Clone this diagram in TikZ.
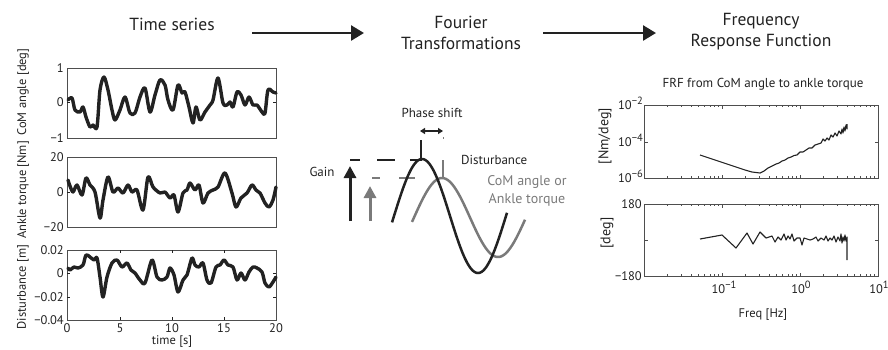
\documentclass[tikz,border=0pt]{standalone}
\usepackage{fontspec}
\setmainfont{PT Sans}
\usetikzlibrary{arrows.meta}
\definecolor{ink}{HTML}{222222}
\definecolor{gry}{HTML}{7A7A7A}
\newcommand\expo[1]{\raisebox{0.75ex}{\fontsize{10.5}{11}\selectfont #1}}
\tikzset{
  title/.style={font=\fontsize{17.5}{21}\selectfont, text=ink, align=center, inner sep=0pt},
  tick/.style={font=\fontsize{12.5}{13}\selectfont, text=ink, inner sep=0pt},
  ylab/.style={font=\fontsize{12.5}{13}\selectfont, text=ink, rotate=90, inner sep=0pt},
  bigarrow/.style={ink, line width=2.6pt, -{Triangle[length=13pt,width=15pt]}},
  panel/.style={draw=ink!80, line width=0.8pt},
  sig/.style={ink, line width=3.4pt, line join=round, line cap=round},
  thin/.style={ink, line width=1.1pt, line join=round},
  lbl/.style={font=\fontsize{13}{15}\selectfont, text=ink, inner sep=0pt},
}
\begin{document}
\begin{tikzpicture}[x=1pt,y=-1pt]
\useasboundingbox (0,0) rectangle (888,349);
% titles
\node[title] (ts) at (172,24) {Time series};
\node[title] (ft) at (461,33) {Fourier\\Transformations};
\node[title] (frf) at (761,32) {Frequency\\Response Function};
\coordinate (a1s) at (252,33); \coordinate (a1e) at (364,33);
\coordinate (a2s) at (543,33); \coordinate (a2e) at (656,33);
\draw[bigarrow] (a1s) -- (a1e);
\draw[bigarrow] (a2s) -- (a2e);

% ---------- time series panels ----------
\node[panel, minimum width=209pt, minimum height=70pt, inner sep=0pt, anchor=north west] (p1) at (67,68) {};
\node[panel, minimum width=209pt, minimum height=70pt, inner sep=0pt, anchor=north west] (p2) at (67,157) {};
\node[panel, minimum width=209pt, minimum height=70pt, inner sep=0pt, anchor=north west] (p3) at (67,250) {};
% ticks
\foreach \y in {102} {\draw[ink] (67,\y) -- (70,\y); \draw[ink] (276,\y) -- (273,\y);}
\foreach \y in {192} {\draw[ink] (67,\y) -- (70,\y); \draw[ink] (276,\y) -- (273,\y);}
\foreach \y in {273,297} {\draw[ink] (67,\y) -- (70,\y); \draw[ink] (276,\y) -- (273,\y);}
\foreach \x in {120,172,224} {\draw[ink] (\x,320) -- (\x,317); \draw[ink] (\x,250) -- (\x,253);}
% tick labels
\node[tick, anchor=east] (t1a) at (64,68) {1};
\node[tick, anchor=east] (t1b) at (64,102) {0};
\node[tick, anchor=east] (t1c) at (64,138) {−1};
\node[tick, anchor=east] (t2a) at (64,157) {20};
\node[tick, anchor=east] (t2b) at (64,192) {0};
\node[tick, anchor=east] (t2c) at (64,227) {−20};
\node[tick, anchor=east] (t3a) at (64,250) {0.02};
\node[tick, anchor=east] (t3b) at (64,273) {0};
\node[tick, anchor=east] (t3c) at (64,297) {−0.02};
\node[tick, anchor=east] (t3d) at (64,320) {−0.04};
\foreach \x/\t in {67/0,120/5,172/10,224/15,276/20}
  \node[tick] (tx\t) at (\x,328) {\t};
\node[tick] (tlab) at (172,342) {time [s]};
\node[ylab] (y1) at (23,92) {CoM angle [deg]};
\node[ylab] (y2) at (23,190) {Ankle torque [Nm]};
\node[ylab] (y3) at (23,287) {Disturbance [m]};
% signals
\draw[sig] plot[smooth, tension=0.5] coordinates {(68,100) (72,98) (75,110) (80,112) (83,107) (86,117) (90,127) (93,125) (97,127) (100,90) (104,77) (108,90) (112,110) (115,120) (120,110) (125,97) (130,113) (135,113) (140,97) (145,88) (150,112) (155,95) (160,80) (165,85) (168,100) (173,110) (178,85) (182,93) (185,92) (189,107) (193,123) (196,107) (200,120) (205,112) (210,105) (213,100) (218,78) (223,103) (227,105) (230,102) (233,107) (237,92) (241,95) (245,105) (249,97) (253,105) (257,105) (262,112) (265,113) (268,90) (273,92) (276,93)};
\draw[sig] plot[smooth, tension=0.5] coordinates {(68,180) (70,186) (73,192) (77,185) (82,195) (86,178) (90,185) (95,192) (100,218) (103,200) (108,177) (113,192) (118,188) (123,193) (128,185) (132,192) (137,190) (143,210) (148,177) (153,187) (160,193) (165,192) (170,198) (174,195) (178,212) (183,193) (187,190) (190,183) (195,190) (199,185) (203,203) (208,193) (213,190) (218,187) (225,173) (232,193) (236,207) (241,198) (247,193) (252,185) (256,190) (260,193) (265,203) (269,207) (273,200) (276,187)};
\draw[sig] plot[smooth, tension=0.5] coordinates {(68,268) (70,270) (74,267) (78,268) (83,265) (86,255) (90,257) (94,260) (97,258) (100,277) (103,297) (107,277) (112,263) (117,260) (122,267) (127,263) (131,270) (135,273) (140,280) (145,283) (152,260) (157,277) (162,280) (167,277) (170,268) (174,275) (178,292) (183,280) (187,275) (192,258) (195,265) (199,267) (203,263) (207,280) (211,283) (216,267) (220,265) (224,260) (228,265) (233,267) (237,280) (241,273) (245,280) (249,272) (253,267) (257,268) (262,272) (265,283) (269,287) (273,282) (276,277)};

% ---------- Fourier sketch ----------
\node[lbl] (ps) at (432,113) {Phase shift};
\coordinate (psl) at (420,131); \coordinate (psr) at (443,131);
\draw[ink, line width=1.6pt, {Triangle[length=5pt,width=6pt]}-{Triangle[length=5pt,width=6pt]}] (psl) -- (psr);
\fill[gry] (442.5,136.5) rectangle (444,138.5);
\draw[ink, line width=2.2pt] (421,140) -- (421,161);
\draw[gry, line width=2.2pt] (443,160) -- (443,179);
\draw[ink, line width=2.4pt] (350,160) -- (360,160) (377,160) -- (395,160) (410,160) -- (422,160);
\draw[gry, line width=2.4pt] (372,178) -- (380,178) (399,178) -- (415,178);
\node[lbl] (gain) at (322,172) {Gain};
\coordinate (ga0) at (350,221); \coordinate (ga1) at (350,166);
\coordinate (gb0) at (370,221); \coordinate (gb1) at (370,186);
\draw[ink, line width=3pt, -{Triangle[length=12pt,width=12pt]}] (ga0) -- (ga1);
\draw[gry, line width=3pt, -{Triangle[length=12pt,width=12pt]}] (gb0) -- (gb1);
\draw[gry, line width=2.5pt, samples=120, domain=412:525] plot (\x, {217.5 - 39.5*sin((\x-414)*3.2142857)});
\draw[ink, line width=2.5pt, samples=120, domain=392:507] plot (\x, {216 - 57*sin((\x-394)*3.2142857)});
\node[lbl, anchor=west] (dist) at (461,160) {Disturbance};
\node[lbl, text=gry, align=center, font=\fontsize{14}{18}\selectfont] (com) at (527,191) {CoM angle or\\Ankle torque};

% ---------- FRF ----------
\node[lbl] (frft) at (763,84) {FRF from CoM angle to ankle torque};
\node[panel, minimum width=234pt, minimum height=73pt, inner sep=0pt, anchor=north west] (mag) at (644,105) {};
\node[panel, minimum width=234pt, minimum height=72pt, inner sep=0pt, anchor=north west] (ph) at (644,204) {};
% log ticks
\foreach \d in {0,1,2} {
  \foreach \m in {2,...,9} {
    \pgfmathsetmacro\xx{644+78*\d+78*log10(\m)}
    \draw[ink!80, line width=0.5pt] (\xx,204) -- (\xx,206);
    \draw[ink!80, line width=0.5pt] (\xx,276) -- (\xx,274);
    \draw[ink!80, line width=0.5pt] (\xx,105) -- (\xx,107);
    \draw[ink!80, line width=0.5pt] (\xx,178) -- (\xx,176);
  }
}
\foreach \x in {722,800} {
  \draw[ink!80] (\x,204) -- (\x,207.5); \draw[ink!80] (\x,276) -- (\x,272.5);
  \draw[ink!80] (\x,105) -- (\x,108.5); \draw[ink!80] (\x,178) -- (\x,174.5);
}
\draw[ink!80] (644,142) -- (647.5,142); \draw[ink!80] (878,142) -- (874.5,142);
\draw[ink!80] (644,240) -- (647.5,240); \draw[ink!80] (878,240) -- (874.5,240);
\node[tick, anchor=east] (m1) at (643,103) {10\expo{−2}};
\node[tick, anchor=east] (m2) at (643,140) {10\expo{−4}};
\node[tick, anchor=east] (m3) at (643,176) {10\expo{−6}};
\node[tick, anchor=east] (h1) at (642,204) {180};
\node[tick, anchor=east] (h2) at (642,276) {−180};
\node[tick] (f1) at (724,287) {10\expo{−1}};
\node[tick] (f2) at (801,287) {10\expo{0}};
\node[tick] (f3) at (879,287) {10\expo{1}};
\node[tick] (fl) at (763,315) {Freq [Hz]};
\node[ylab, font=\fontsize{14}{16}\selectfont] (ml) at (605,136) {[Nm/deg]};
\node[ylab, font=\fontsize{14}{16}\selectfont] (pl) at (607,233) {[deg]};
\draw[thin] plot coordinates {(700,155) (715,160) (730,165) (745,170) (752,172) (760,173) (764,171) (768,168) (772,166) (776,164) (779,163) (782,161) (785,160) (788,158) (791,157) (794,155.5) (797,155) (800,152) (803,152) (806,150) (809,148) (812,148) (815,145) (818,144) (821,143) (823,139) (825,141) (827,138) (829,140) (831,135) (833,137) (835,133) (837,136) (839,131) (841,134) (842,129) (843,133) (844,127) (845,131) (846,125) (847,129) (847,124)};
\draw[thin] plot coordinates {(700,239) (722,235) (736,248) (747,233) (753,244) (760,232) (766,238) (772,236) (775,242) (778,237) (781,240) (784,234) (786,240) (788,236) (790,239) (792,234) (794,241) (797,238) (800,238) (802,245) (804,238) (807,239) (810,240) (813,239) (816,237) (818,241) (821,238) (824,240) (826,236) (828,241) (830,238) (832,240) (834,236) (836,242) (838,237) (840,241) (841,234) (842,243) (843,237) (844,241) (845,235) (846,241) (847,237) (847,260)};
\end{tikzpicture}
\end{document}
